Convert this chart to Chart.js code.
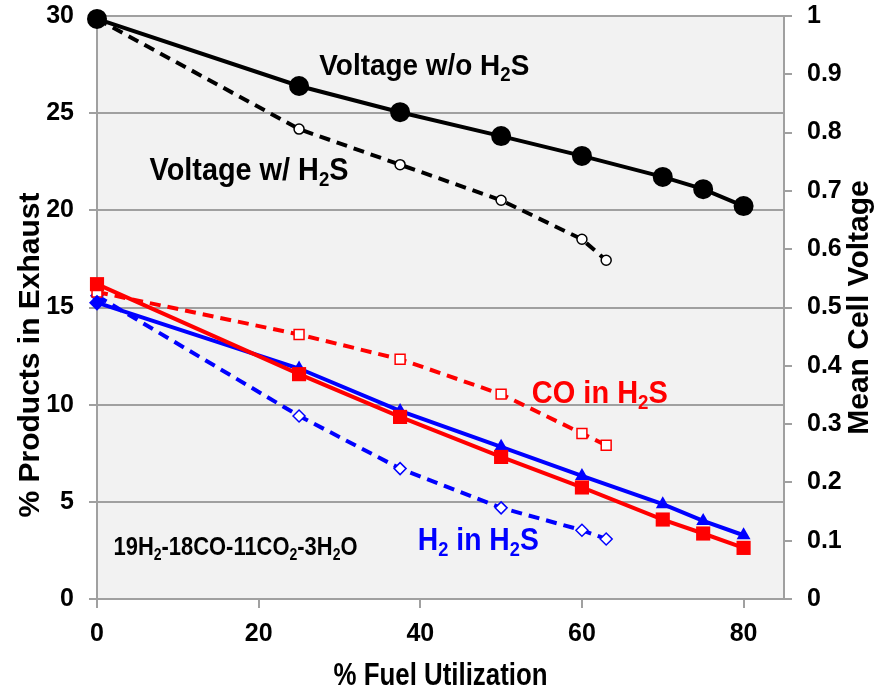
<!DOCTYPE html>
<html>
<head>
<meta charset="utf-8">
<script src="https://cdn.jsdelivr.net/npm/chart.js@4.4.1/dist/chart.umd.min.js"></script>
<style>
  html, body { margin: 0; padding: 0; background: #fff; }
  #wrap { width: 883px; height: 692px; }
</style>
</head>
<body>
<div id="wrap"><canvas id="fuelChart" width="883" height="692"></canvas></div>
<script>
// fuel utilization (%) for each run
var fuelUtil = [0, 25, 37.5, 50, 60, 70, 75, 80];
var fuelUtilH2S = [0, 25, 37.5, 50, 60, 63];

// mean cell voltage (right axis)
var voltageNoH2S = [0.995, 0.880, 0.835, 0.794, 0.760, 0.724, 0.703, 0.674];
var voltageH2S = [0.995, 0.806, 0.745, 0.684, 0.617, 0.581];

// % products in exhaust (left axis)
var coNoH2S = [16.2, 11.57, 9.37, 7.31, 5.74, 4.09, 3.37, 2.63];
var h2NoH2S = [15.25, 11.86, 9.68, 7.83, 6.33, 4.88, 4.02, 3.28];
var coH2S = [15.8, 13.61, 12.34, 10.54, 8.52, 7.91];
var h2H2S = [15.6, 9.42, 6.71, 4.69, 3.54, 3.09];

var xTicks = [0, 20, 40, 60, 80];
var leftTicks = [0, 5, 10, 15, 20, 25, 30];
var rightTicks = [0, 0.1, 0.2, 0.3, 0.4, 0.5, 0.6, 0.7, 0.8, 0.9, 1];

function pts(xs, ys) {
  return xs.map(function (x, i) { return { x: x, y: ys[i] }; });
}

var family = "'Liberation Sans', Arial, sans-serif";

// in-plot labels, anchored in data units (left baseline); w = printed width in px
var notes = [
  { parts: [['Voltage w/o H'], ['2', 1], ['S']], x: 27.5, y: 26.97, w: 210, color: '#000', size: 30 },
  { parts: [['Voltage w/ H'], ['2', 1], ['S']], x: 6.5, y: 21.56, w: 199, color: '#000', size: 31 },
  { parts: [['CO in H'], ['2', 1], ['S']], x: 53.8, y: 10.09, w: 136, color: '#ff0000', size: 31 },
  { parts: [['H'], ['2', 1], [' in H'], ['2', 1], ['S']], x: 39.7, y: 2.51, w: 121, color: '#0000ff', size: 31 },
  { parts: [['19H'], ['2', 1], ['-18CO-11CO'], ['2', 1], ['-3H'], ['2', 1], ['O']], x: 2.04, y: 2.25, w: 244, color: '#000', size: 25 }
];

// draws text with subscripts, squeezed to width w
function fitText(ctx, parts, x, y, size, w) {
  var total = 0;
  parts.forEach(function (p) {
    ctx.font = 'bold ' + (p[1] ? Math.round(size * 0.65) : size) + 'px ' + family;
    total += ctx.measureText(p[0]).width;
  });
  ctx.save();
  ctx.translate(x, y);
  ctx.scale(w / total, 1);
  var cx = 0;
  parts.forEach(function (p) {
    ctx.font = 'bold ' + (p[1] ? Math.round(size * 0.65) : size) + 'px ' + family;
    ctx.fillText(p[0], cx, p[1] ? size * 0.2 : 0);
    cx += ctx.measureText(p[0]).width;
  });
  ctx.restore();
}

var decor = {
  id: 'decor',
  beforeDraw: function (chart) {
    var a = chart.chartArea, ctx = chart.ctx;
    ctx.save();
    ctx.fillStyle = '#f2f2f2';
    ctx.fillRect(a.left, a.top, a.right - a.left, a.bottom - a.top);
    ctx.restore();
  },
  afterDraw: function (chart) {
    var ctx = chart.ctx, a = chart.chartArea;
    var sx = chart.scales.x, sy = chart.scales.y;
    ctx.save();
    ctx.textBaseline = 'alphabetic';
    ctx.textAlign = 'left';
    notes.forEach(function (n) {
      ctx.fillStyle = n.color;
      fitText(ctx, n.parts, sx.getPixelForValue(n.x), sy.getPixelForValue(n.y), n.size, n.w);
    });
    // axis titles
    ctx.fillStyle = '#000';
    fitText(ctx, [['% Fuel Utilization']], (a.left + a.right) / 2 - 107, 685, 31, 214);
    ctx.textAlign = 'center';
    ctx.textBaseline = 'middle';
    ctx.font = 'bold 30px ' + family;
    ctx.save();
    ctx.translate(31, 355);
    ctx.rotate(-Math.PI / 2);
    ctx.fillText('% Products in Exhaust', 0, 0);
    ctx.restore();
    ctx.save();
    ctx.translate(860, (a.top + a.bottom) / 2);
    ctx.rotate(-Math.PI / 2);
    ctx.fillText('Mean Cell Voltage', 0, 0);
    ctx.restore();
    ctx.restore();
  }
};

var gridGray = '#a0a0a0';
var tickFont = { family: family, size: 25, weight: 'bold' };

function noPad(s, width) {
  s.width = width;
  s.paddingTop = 0;
  s.paddingBottom = 0;
}

var ctx = document.getElementById('fuelChart').getContext('2d');
var fuelChart = new Chart(ctx, {
  type: 'line',
  data: {
    datasets: [
      {
        label: 'Voltage w/o H2S', yAxisID: 'y2', clip: false,
        data: pts(fuelUtil, voltageNoH2S),
        borderColor: '#000', backgroundColor: '#000', borderWidth: 4,
        pointStyle: 'circle', pointRadius: 8, pointBackgroundColor: '#000'
      },
      {
        label: 'Voltage w/ H2S', yAxisID: 'y2', clip: false,
        data: pts(fuelUtilH2S, voltageH2S),
        borderColor: '#000', borderWidth: 4, borderDash: [11, 7],
        pointStyle: 'circle', pointRadius: 5, pointBackgroundColor: '#fff', pointBorderWidth: 1.5
      },
      {
        label: 'CO', yAxisID: 'y', clip: false,
        data: pts(fuelUtil, coNoH2S),
        borderColor: '#ff0000', backgroundColor: '#ff0000', borderWidth: 4,
        pointStyle: 'rect', pointRadius: 10, pointBackgroundColor: '#ff0000', pointBorderWidth: 0
      },
      {
        label: 'H2', yAxisID: 'y', clip: false,
        data: pts(fuelUtil, h2NoH2S),
        borderColor: '#0000ff', backgroundColor: '#0000ff', borderWidth: 4,
        pointStyle: function (c) { return c.dataIndex === 0 ? 'rectRot' : 'triangle'; },
        pointRadius: 8, pointBackgroundColor: '#0000ff', pointBorderWidth: 0
      },
      {
        label: 'CO in H2S', yAxisID: 'y', clip: false,
        data: pts(fuelUtilH2S, coH2S),
        borderColor: '#ff0000', borderWidth: 4, borderDash: [11, 7],
        pointStyle: 'rect', pointRadius: 7, pointBackgroundColor: '#fff', pointBorderWidth: 1.5
      },
      {
        label: 'H2 in H2S', yAxisID: 'y', clip: false,
        data: pts(fuelUtilH2S, h2H2S),
        borderColor: '#0000ff', borderWidth: 4, borderDash: [11, 7],
        pointStyle: 'rectRot', pointRadius: 6, pointBackgroundColor: '#fff', pointBorderWidth: 1.5
      }
    ]
  },
  options: {
    responsive: false,
    animation: false,
    layout: { padding: { top: 16, left: 0, right: 0, bottom: 0 } },
    plugins: { legend: { display: false }, tooltip: { enabled: false } },
    elements: { line: { tension: 0 } },
    scales: {
      x: {
        type: 'linear', min: 0, max: 85,
        afterBuildTicks: function (s) { s.ticks = xTicks.map(function (v) { return { value: v }; }); },
        afterFit: function (s) { s.height = 93; s.paddingLeft = 0; s.paddingRight = 0; },
        grid: { drawOnChartArea: false, color: gridGray, lineWidth: 2, tickLength: 9 },
        border: { color: gridGray, width: 2 },
        ticks: { font: tickFont, color: '#000', padding: 11, maxRotation: 0 }
      },
      y: {
        position: 'left', min: 0, max: 30,
        afterBuildTicks: function (s) { s.ticks = leftTicks.map(function (v) { return { value: v }; }); },
        afterFit: function (s) { noPad(s, 97); },
        grid: { color: gridGray, lineWidth: 2, tickLength: 8 },
        border: { color: gridGray, width: 2 },
        ticks: { font: tickFont, color: '#000', padding: 15 }
      },
      y2: {
        position: 'right', min: 0, max: 1,
        afterBuildTicks: function (s) { s.ticks = rightTicks.map(function (v) { return { value: v }; }); },
        afterFit: function (s) { noPad(s, 99); },
        grid: { drawOnChartArea: false, color: gridGray, lineWidth: 2, tickLength: 8 },
        border: { color: gridGray, width: 2 },
        ticks: {
          font: tickFont, color: '#000', padding: 15,
          callback: function (v) { return String(+v.toFixed(1)); }
        }
      }
    }
  },
  plugins: [decor]
});
</script>
</body>
</html>
